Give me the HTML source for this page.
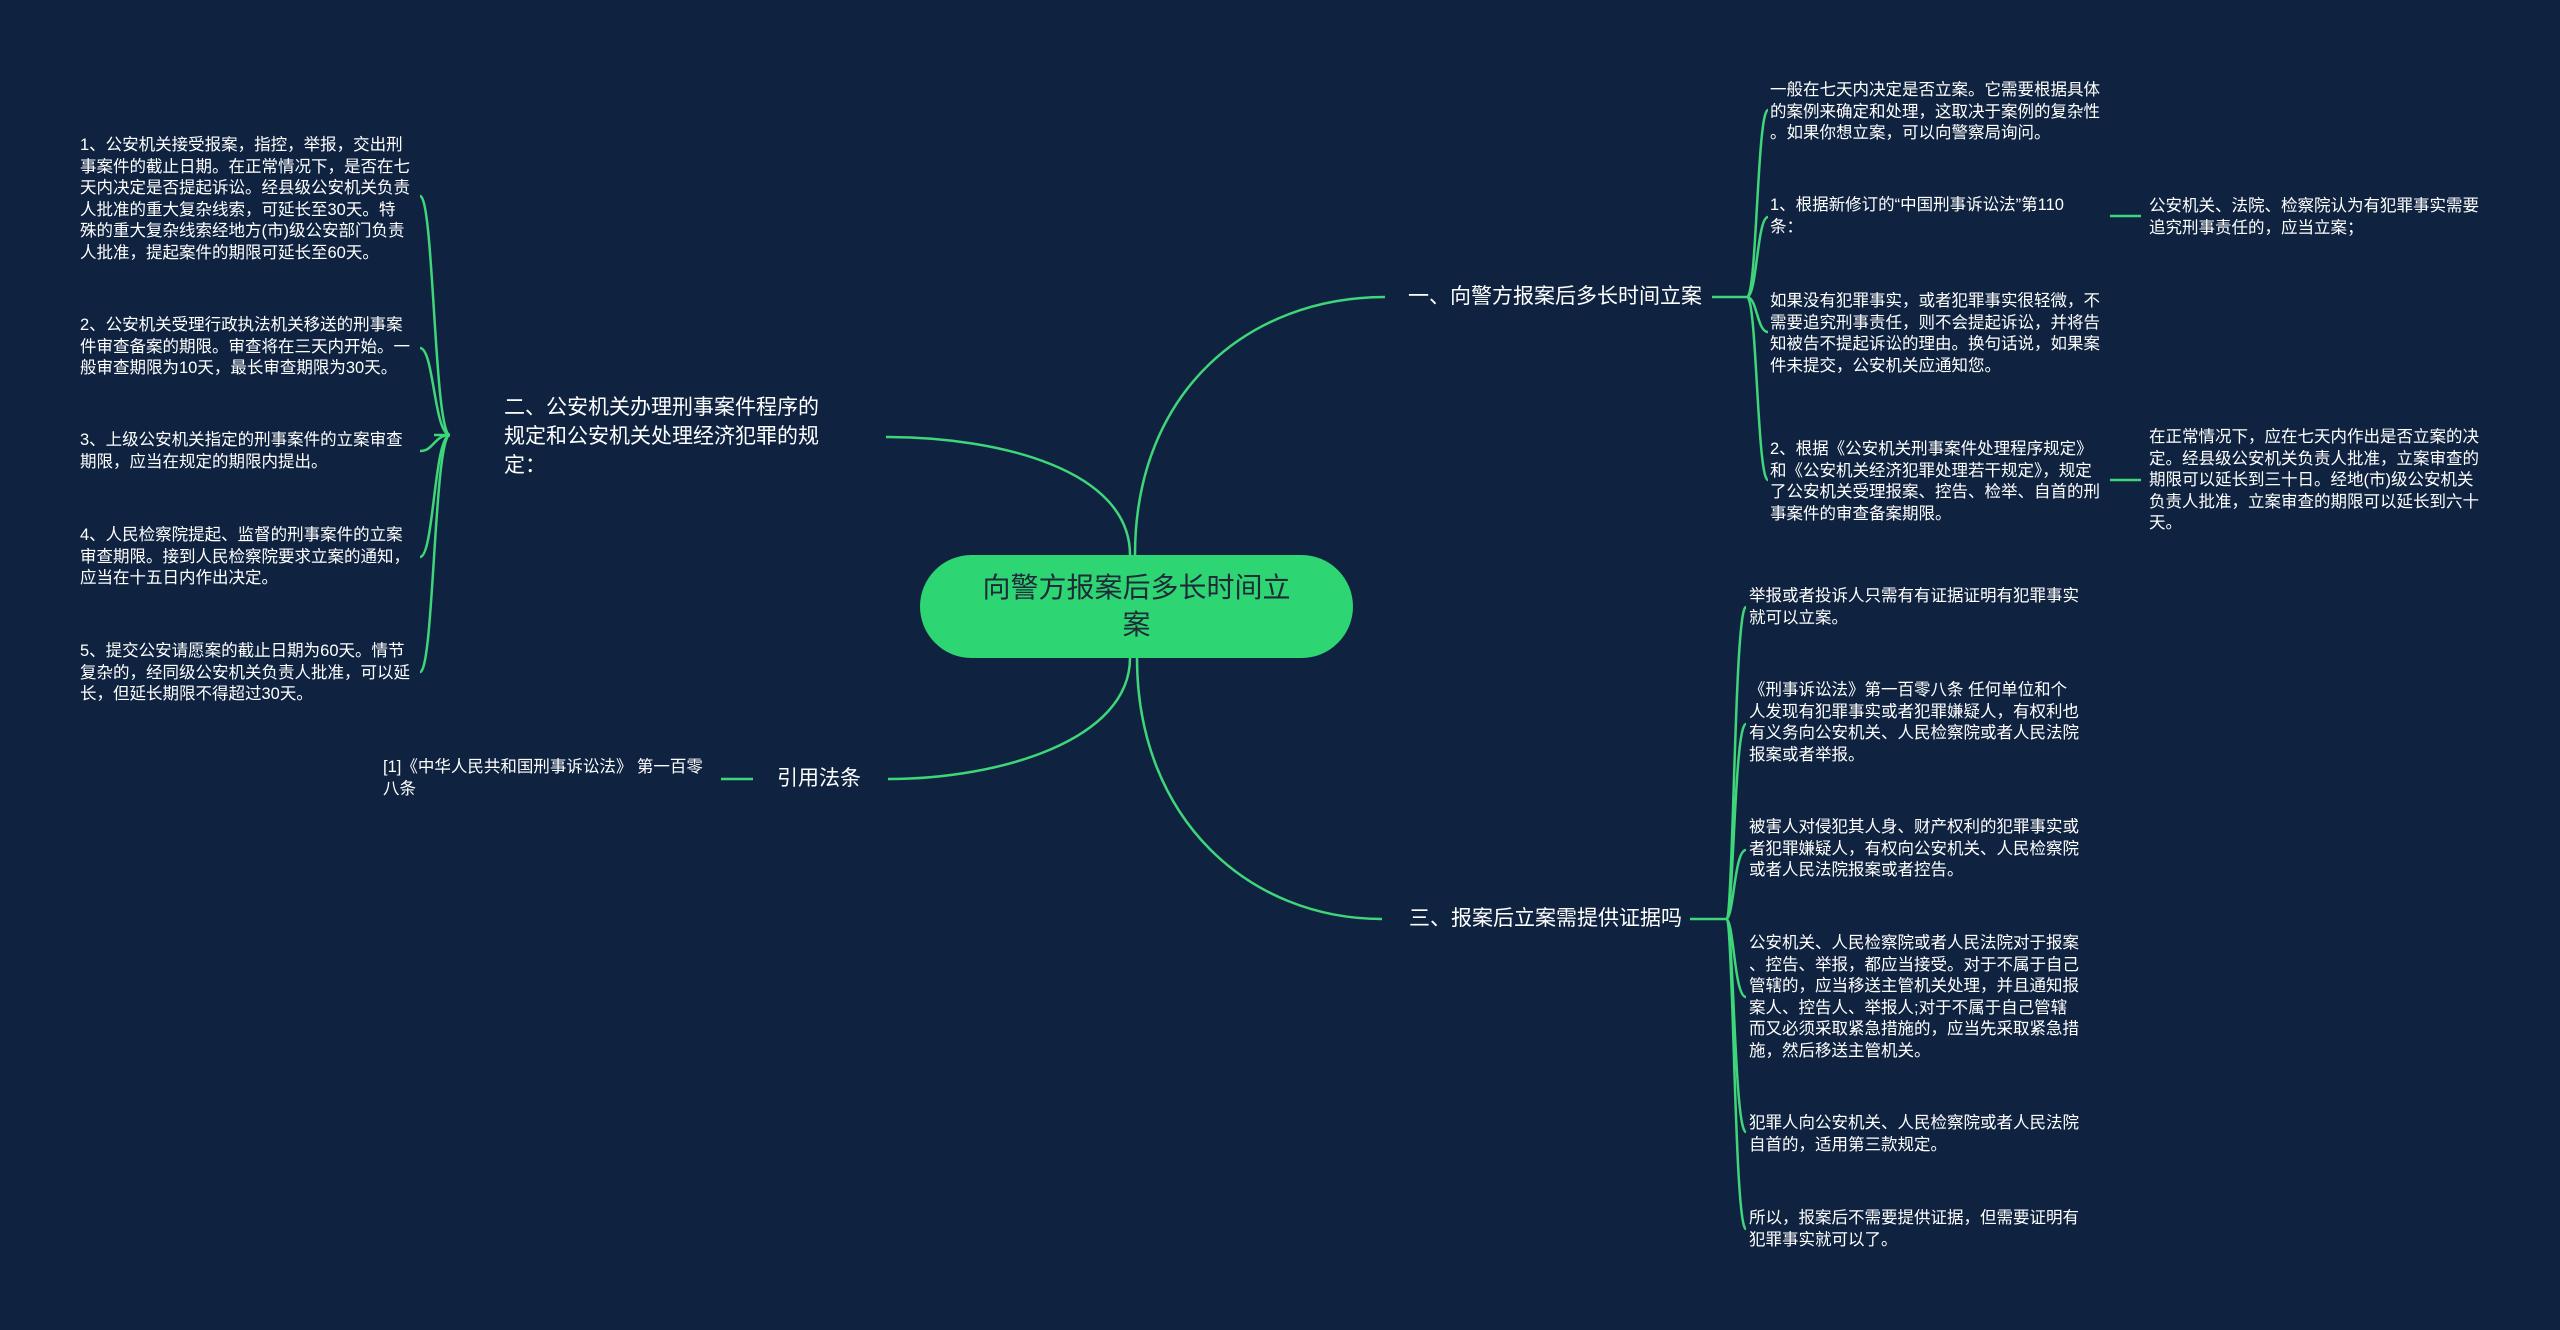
<!DOCTYPE html>
<html><head><meta charset="utf-8"><style>
html,body{margin:0;padding:0}
body{width:2560px;height:1330px;background:#0f2340;position:relative;overflow:hidden;font-family:"Liberation Sans","Noto Sans CJK SC",sans-serif;color:#fff}
.t{position:absolute;font-size:16.5px;line-height:21.5px;white-space:nowrap}
.b{position:absolute;font-size:21px;line-height:29px;white-space:nowrap}
svg{position:absolute;left:0;top:0}
.node{position:absolute;left:920px;top:555px;width:433px;height:103px;background:#2ed573;border-radius:52px;color:#1e2a38;font-size:28px;line-height:37px;text-align:center;box-sizing:border-box;padding-top:14px}
</style></head><body>
<svg width="2560" height="1330" fill="none" stroke="#3fd67a" stroke-width="2.5">
<path d="M1135,555 C1135,390 1250,297 1385,297"/>
<path d="M1130,555 C1130,470 1000,437 886,437"/>
<path d="M1137,658 C1137,820 1250,919 1382,919"/>
<path d="M1130,658 C1130,740 1000,779 888,779"/>
<path d="M1712,297 L1747,297"/>
<path d="M1690,919 L1726,919"/>
<path d="M721,779 L753,779"/>
<path d="M2110,216 L2141,216"/>
<path d="M2110,480 L2141,480"/>
<path d="M434,435 L450,435"/>
<path d="M450,435 C434,435 434,196 420,196"/>
<path d="M450,435 C434,435 434,348 420,348"/>
<path d="M450,435 C434,435 434,451 420,451"/>
<path d="M450,435 C434,435 434,557 420,557"/>
<path d="M450,435 C434,435 434,672 420,672"/>
<path d="M1747,297 C1757,297 1757,110 1768,110"/>
<path d="M1747,297 C1757,297 1757,217 1768,217"/>
<path d="M1747,297 C1757,297 1757,332 1768,332"/>
<path d="M1747,297 C1757,297 1757,480 1768,480"/>
<path d="M1726,919 C1734,919 1734,607 1746,607"/>
<path d="M1726,919 C1734,919 1734,724 1746,724"/>
<path d="M1726,919 C1734,919 1734,850 1746,850"/>
<path d="M1726,919 C1734,919 1734,997 1746,997"/>
<path d="M1726,919 C1734,919 1734,1132 1746,1132"/>
<path d="M1726,919 C1734,919 1734,1229 1746,1229"/>
</svg>
<div class="node">向警方报案后多长时间立<br>案</div>
<div class="b" style="left:1408px;top:282px">一、向警方报案后多长时间立案</div>
<div class="b" style="left:504px;top:393px">二、公安机关办理刑事案件程序的<br>规定和公安机关处理经济犯罪的规<br>定：</div>
<div class="b" style="left:777px;top:764px">引用法条</div>
<div class="b" style="left:1409px;top:904px">三、报案后立案需提供证据吗</div>

<div class="t" style="left:80px;top:135px">1、公安机关接受报案，指控，举报，交出刑<br>事案件的截止日期。在正常情况下，是否在七<br>天内决定是否提起诉讼。经县级公安机关负责<br>人批准的重大复杂线索，可延长至30天。特<br>殊的重大复杂线索经地方(市)级公安部门负责<br>人批准，提起案件的期限可延长至60天。</div>
<div class="t" style="left:80px;top:315px">2、公安机关受理行政执法机关移送的刑事案<br>件审查备案的期限。审查将在三天内开始。一<br>般审查期限为10天，最长审查期限为30天。</div>
<div class="t" style="left:80px;top:430px">3、上级公安机关指定的刑事案件的立案审查<br>期限，应当在规定的期限内提出。</div>
<div class="t" style="left:80px;top:525px">4、人民检察院提起、监督的刑事案件的立案<br>审查期限。接到人民检察院要求立案的通知，<br>应当在十五日内作出决定。</div>
<div class="t" style="left:80px;top:641px">5、提交公安请愿案的截止日期为60天。情节<br>复杂的，经同级公安机关负责人批准，可以延<br>长，但延长期限不得超过30天。</div>
<div class="t" style="left:383px;top:757px">[1]《中华人民共和国刑事诉讼法》 第一百零<br>八条</div>

<div class="t" style="left:1770px;top:80px">一般在七天内决定是否立案。它需要根据具体<br>的案例来确定和处理，这取决于案例的复杂性<br>。如果你想立案，可以向警察局询问。</div>
<div class="t" style="left:1770px;top:195px">1、根据新修订的“中国刑事诉讼法”第110<br>条：</div>
<div class="t" style="left:2149px;top:196px">公安机关、法院、检察院认为有犯罪事实需要<br>追究刑事责任的，应当立案；</div>
<div class="t" style="left:1770px;top:291px">如果没有犯罪事实，或者犯罪事实很轻微，不<br>需要追究刑事责任，则不会提起诉讼，并将告<br>知被告不提起诉讼的理由。换句话说，如果案<br>件未提交，公安机关应通知您。</div>
<div class="t" style="left:1770px;top:439px">2、根据《公安机关刑事案件处理程序规定》<br>和《公安机关经济犯罪处理若干规定》，规定<br>了公安机关受理报案、控告、检举、自首的刑<br>事案件的审查备案期限。</div>
<div class="t" style="left:2149px;top:427px">在正常情况下，应在七天内作出是否立案的决<br>定。经县级公安机关负责人批准，立案审查的<br>期限可以延长到三十日。经地(市)级公安机关<br>负责人批准，立案审查的期限可以延长到六十<br>天。</div>

<div class="t" style="left:1749px;top:586px">举报或者投诉人只需有有证据证明有犯罪事实<br>就可以立案。</div>
<div class="t" style="left:1749px;top:680px">《刑事诉讼法》第一百零八条 任何单位和个<br>人发现有犯罪事实或者犯罪嫌疑人，有权利也<br>有义务向公安机关、人民检察院或者人民法院<br>报案或者举报。</div>
<div class="t" style="left:1749px;top:817px">被害人对侵犯其人身、财产权利的犯罪事实或<br>者犯罪嫌疑人，有权向公安机关、人民检察院<br>或者人民法院报案或者控告。</div>
<div class="t" style="left:1749px;top:933px">公安机关、人民检察院或者人民法院对于报案<br>、控告、举报，都应当接受。对于不属于自己<br>管辖的，应当移送主管机关处理，并且通知报<br>案人、控告人、举报人;对于不属于自己管辖<br>而又必须采取紧急措施的，应当先采取紧急措<br>施，然后移送主管机关。</div>
<div class="t" style="left:1749px;top:1113px">犯罪人向公安机关、人民检察院或者人民法院<br>自首的，适用第三款规定。</div>
<div class="t" style="left:1749px;top:1208px">所以，报案后不需要提供证据，但需要证明有<br>犯罪事实就可以了。</div>
</body></html>
